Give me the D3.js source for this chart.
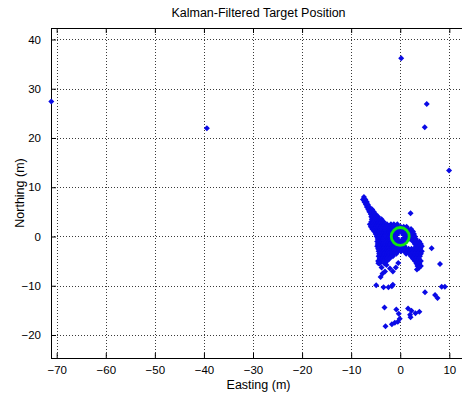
<!DOCTYPE html>
<html>
<head>
<meta charset="utf-8">
<script src="https://cdn.jsdelivr.net/npm/d3@7"></script>
<style>
  html, body { margin: 0; padding: 0; background: #fff; }
  svg { display: block; font-family: "Liberation Sans", Arial, sans-serif; }
</style>
</head>
<body>
<svg id="chart" width="462" height="397"></svg>
<script>
// Axis limits (metres) and tick values
const eastingLimits = [-71.16, 13.4];
const northingLimits = [-24.67, 42.33];
const eastingTicks = [-70, -60, -50, -40, -30, -20, -10, 0, 10];
const northingTicks = [-20, -10, 0, 10, 20, 30, 40];

// Sparse far-off estimates [easting, northing]
const farPoints = [
  [-71.1, 27.4], [-39.4, 22.0], [0.2, 36.2], [5.4, 26.9], [5.0, 22.2], [9.95, 13.4]
];

// Dense cluster around the target, one row per northing: [northing, [eastings...]]
const clusterRows = [
  [8.0, [-7.4]],
  [7.5, [-7.6, -7.1]],
  [7.0, [-7.3, -6.8]],
  [6.5, [-7.0, -6.6]],
  [6.0, [-6.8, -6.3]],
  [5.5, [-6.5, -6.0, -5.7]],
  [5.0, [-6.3, -5.8, -5.4]],
  [4.5, [-6.0, -5.5, -5.0]],
  [4.0, [-5.9, -5.4, -4.9, -4.5]],
  [3.5, [-5.8, -5.3, -4.8, -4.3, -3.8]],
  [3.0, [-5.9, -5.4, -4.9, -4.4, -3.9, -3.4]],
  [2.5, [-6.2, -5.7, -5.2, -4.7, -4.2, -3.7, -3.2, -2.7, -1.9, -1.3, -0.6]],
  [2.0, [-6.0, -5.5, -5.0, -4.5, -4.0, -3.5, -3.0, -2.5, -2.0, -1.5, -1.0, -0.5, 0.1, 0.7, 1.3]],
  [1.5, [-5.7, -5.2, -4.7, -4.2, -3.7, -3.2, -2.7, -2.2, -1.7, -1.2, -0.7, -0.2, 0.4, 1.0, 1.6, 2.2]],
  [1.0, [-5.3, -4.8, -4.3, -3.8, -3.3, -2.8, -2.3, -1.8, -1.3, -0.8, -0.3, 0.3, 0.9, 1.5, 2.1, 2.6]],
  [0.5, [-5.0, -4.5, -4.0, -3.5, -3.0, -2.5, -2.0, -1.5, -1.0, -0.5, 0.1, 0.7, 1.3, 1.8, 2.3, 2.8]],
  [0.0, [-4.8, -4.3, -3.8, -3.3, -2.8, -2.3, -1.8, -1.3, -0.8, -0.3, 0.3, 0.8, 1.4, 1.9, 2.4, 3.0]],
  [-0.5, [-4.6, -4.1, -3.6, -3.1, -2.6, -2.1, -1.6, -1.1, -0.6, -0.1, 0.5, 1.0, 1.5, 2.0, 2.6, 3.2]],
  [-1.0, [-4.7, -4.2, -3.7, -3.2, -2.7, -2.2, -1.7, -1.2, -0.7, -0.2, 0.4, 0.9, 2.6, 3.3, 3.9]],
  [-1.5, [-4.6, -4.1, -3.6, -3.1, -2.6, -2.1, -1.6, -1.1, -0.6, 0.0, 0.6, 3.0, 3.6, 4.2]],
  [-2.0, [-4.7, -4.2, -3.7, -3.2, -2.7, -2.2, -1.7, -1.2, -0.7, -0.2, 0.3, 0.9, 3.2, 3.8, 4.4]],
  [-2.5, [-4.5, -4.0, -3.5, -3.0, -2.5, -2.0, -1.5, -1.0, -0.5, 0.0, 0.5, 1.1, 1.7, 2.3, 2.9, 3.5, 4.1]],
  [-3.0, [-4.4, -3.9, -3.4, -2.9, -2.4, -1.9, -1.4, -0.9, -0.4, 0.2, 0.8, 1.4, 2.0, 2.6, 3.2, 3.8, 4.4]],
  [-3.5, [-4.3, -3.8, -3.3, -2.8, -2.3, -1.8, -1.3, -0.8, 1.2, 1.8, 2.4, 3.0, 3.6, 4.2]],
  [-4.0, [-4.4, -3.9, -3.4, -2.9, -2.4, -1.9, -1.5, 2.2, 2.8, 3.4, 4.0]],
  [-4.5, [-4.2, -3.7, -3.2, -2.7, -2.2, 2.6, 3.2, 3.8]],
  [-5.0, [-4.5, -3.9, -3.4, -2.7, 3.0, 3.6, 4.2]],
  [-5.5, [-4.2, -3.2, 3.3, 3.9]],
  [-6.0, [3.5, 4.2]],
  [-6.4, [3.8]]
];

// Scattered estimates around and south of the cluster [easting, northing]
const scatterPoints = [
  [2.1, 4.7], [6.4, -2.4], [8.1, -5.6], [3.4, -6.7],
  [-4.45, -5.45], [-3.8, -6.3], [-2.8, -5.8], [-3.6, -7.5], [-4.0, -8.2],
  [-3.1, -7.1], [-1.5, -7.1], [-0.9, -6.3], [-2.1, -6.5], [-0.4, -5.4],
  [-4.9, -9.9], [-3.4, -10.3], [-2.4, -10.3], [-1.7, -10.1], [-1.5, -9.8],
  [5.05, -11.3], [7.1, -11.9], [7.6, -12.5], [8.45, -10.2], [9.1, -10.2],
  [-3.2, -14.4], [-0.8, -14.8], [-0.3, -15.7], [1.6, -14.6], [2.3, -15.1],
  [3.1, -15.6], [3.9, -15.3], [2.0, -15.9], [2.1, -16.4], [-0.1, -16.7],
  [-1.1, -17.5], [-0.5, -17.3], [-1.7, -17.8], [-3.0, -18.2]
];

// True target location and marker ring radius (metres)
const targetPosition = [0, 0];
const targetRingRadius = 1.83;

const margin = { left: 51, top: 28, right: 466, bottom: 358 };
const svg = d3.select("#chart");

const x = d3.scaleLinear().domain(eastingLimits).range([margin.left, margin.right]);
const y = d3.scaleLinear().domain(northingLimits).range([margin.bottom, margin.top]);

// Grid lines (dotted)
const grid = svg.append("g").attr("stroke", "#3a3a3a").attr("stroke-width", 1)
  .attr("stroke-dasharray", "1,2").attr("shape-rendering", "crispEdges");
grid.selectAll("line.vx").data(eastingTicks).join("line")
  .attr("x1", d => Math.round(x(d)) + 0.5).attr("x2", d => Math.round(x(d)) + 0.5)
  .attr("y1", margin.top).attr("y2", margin.bottom);
grid.selectAll("line.hy").data(northingTicks).join("line")
  .attr("y1", d => Math.round(y(d)) + 0.5).attr("y2", d => Math.round(y(d)) + 0.5)
  .attr("x1", margin.left).attr("x2", margin.right);

// Axes with inward ticks on all four sides
const tickLen = 5;
const axisStyle = g => {
  g.select(".domain").remove();
  g.selectAll(".tick line").attr("stroke", "#000");
  g.selectAll(".tick text").attr("fill", "#000").style("font-size", "11.5px")
    .style("font-family", "'Liberation Sans', Arial, sans-serif");
};
svg.append("g").attr("transform", `translate(0,${margin.bottom})`)
  .call(d3.axisBottom(x).tickValues(eastingTicks).tickFormat(d3.format("d"))
    .tickSizeInner(-tickLen).tickSizeOuter(0).tickPadding(tickLen + 3))
  .call(axisStyle);
svg.append("g").attr("transform", `translate(0,${margin.top})`)
  .call(d3.axisTop(x).tickValues(eastingTicks).tickFormat("")
    .tickSizeInner(-tickLen).tickSizeOuter(0))
  .call(axisStyle);
svg.append("g").attr("transform", `translate(${margin.left},0)`)
  .call(d3.axisLeft(y).tickValues(northingTicks).tickFormat(d3.format("d"))
    .tickSizeInner(-tickLen).tickSizeOuter(0).tickPadding(tickLen + 5))
  .call(axisStyle);

// Axes box
svg.append("rect")
  .attr("x", margin.left + 0.5).attr("y", margin.top + 0.5)
  .attr("width", margin.right - margin.left).attr("height", margin.bottom - margin.top)
  .attr("fill", "none").attr("stroke", "#000").attr("stroke-width", 1);

// Estimated positions as small diamond markers
const clusterPoints = clusterRows.flatMap(([n, es]) => es.map(e => [e, n]));
const allPoints = farPoints.concat(clusterPoints, scatterPoints);
const s = 3;
svg.append("g").attr("fill", "#0a0ae6")
  .selectAll("path").data(allPoints).join("path")
  .attr("d", d => {
    const cx = x(d[0]), cy = y(d[1]);
    return `M${cx},${cy - s}L${cx + s},${cy}L${cx},${cy + s}L${cx - s},${cy}Z`;
  });

// Target marker
const tx = x(targetPosition[0]), ty = y(targetPosition[1]);
svg.append("circle")
  .attr("cx", tx).attr("cy", ty)
  .attr("r", x(targetRingRadius) - x(0))
  .attr("fill", "none").attr("stroke", "#10e610").attr("stroke-width", 2.8);
svg.append("path")
  .attr("d", `M${tx - 2},${ty}L${tx + 2},${ty}M${tx},${ty - 2}L${tx},${ty + 2}`)
  .attr("stroke", "#fff").attr("stroke-width", 1);

// Title and axis labels
svg.append("text").attr("x", (margin.left + margin.right) / 2).attr("y", 17)
  .attr("text-anchor", "middle").style("font-size", "12.5px").text("Kalman-Filtered Target Position");
svg.append("text").attr("x", (margin.left + margin.right) / 2).attr("y", 389)
  .attr("text-anchor", "middle").style("font-size", "12.5px").text("Easting (m)");
svg.append("text")
  .attr("transform", `translate(24,${(margin.top + margin.bottom) / 2}) rotate(-90)`)
  .attr("text-anchor", "middle").style("font-size", "12.5px").text("Northing (m)");
</script>
</body>
</html>
